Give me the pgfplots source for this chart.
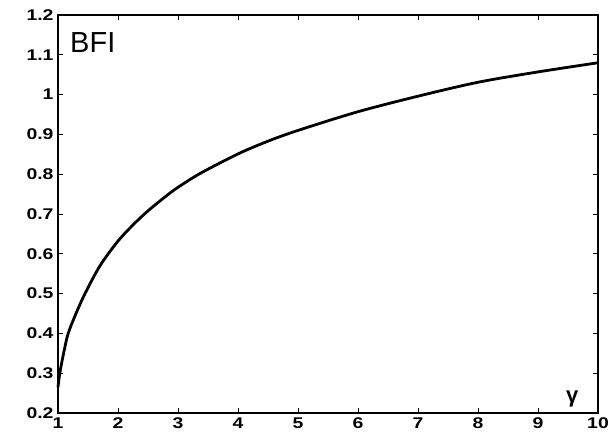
\documentclass[border=0pt]{standalone}
\usepackage{fontspec}
\setmainfont{Liberation Sans}
\usepackage{graphicx}
\usepackage{pgfplots}
\pgfplotsset{compat=1.18}
\newcommand\sx[1]{\scalebox{1.25}[1]{#1}}
\begin{document}
\begin{tikzpicture}
\begin{axis}[
  scale only axis,
  width=540pt, height=398pt,
  xmin=1, xmax=10, ymin=0.2, ymax=1.2,
  xtick={1,2,...,10},
  xticklabels={\sx{1},\sx{2},\sx{3},\sx{4},\sx{5},\sx{6},\sx{7},\sx{8},\sx{9},\sx{10}},
  ytick={0.2,0.3,0.4,0.5,0.6,0.7,0.8,0.9,1,1.1,1.2},
  yticklabels={\sx{0.2},\sx{0.3},\sx{0.4},\sx{0.5},\sx{0.6},\sx{0.7},\sx{0.8},\sx{0.9},\sx{1},\sx{1.1},\sx{1.2}},
  tick align=inside,
  major tick length=5pt,
  tick style={line width=0.8pt, black},
  axis line style={line width=1.6pt},
  /pgf/number format/assume math mode=true,
  ticklabel style={font=\bfseries\fontsize{15.5}{15.5}\selectfont},
  xticklabel style={yshift=-1pt},
  yticklabel style={xshift=-1pt},
  clip=false,
]
\addplot[black, line width=2.8pt, smooth] coordinates {
(1.00,0.265) (1.03,0.30) (1.10,0.355) (1.17,0.40) (1.30,0.450) (1.45,0.50)
(1.70,0.570) (2.0,0.632) (2.26,0.674) (2.5,0.708) (2.81,0.746)
(3.0,0.767) (3.37,0.802) (4.0,0.851) (4.5,0.883) (5.0,0.910)
(6.0,0.957) (7.0,0.996) (8.0,1.031) (9.0,1.057) (10.0,1.080)
};
\node[anchor=base west, font=\fontsize{29}{29}\selectfont, inner sep=0pt] at (axis cs:1.2,1.105) {BFI};
\node[anchor=center, font=\bfseries\fontsize{22}{22}\selectfont, inner sep=0pt] at (axis cs:9.57,0.235) {γ};
\end{axis}
\path (current axis.south west) ++(-58pt,-24pt) coordinate (bl);
\path (current axis.north east) ++(17pt,15pt) coordinate (tr);
\useasboundingbox (bl) rectangle (tr);
\end{tikzpicture}
\end{document}
